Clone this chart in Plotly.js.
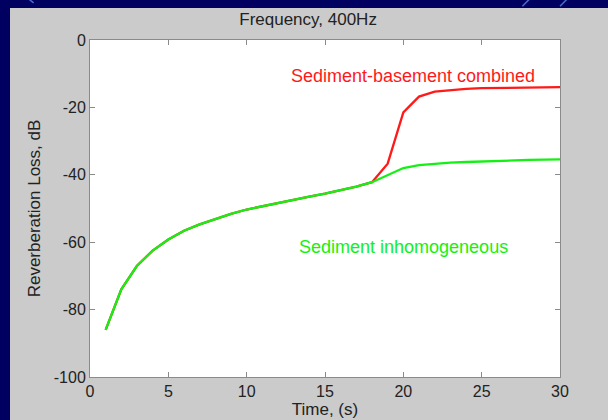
<!DOCTYPE html>
<html>
<head>
<meta charset="utf-8">
<script src="https://cdn.plot.ly/plotly-3.0.1.min.js"></script>
<style>html,body{margin:0;padding:0;background:#000060;}#chart{width:608px;height:420px;}</style>
</head>
<body>
<div id="chart"></div>
<script>
// Time axis (s)
var timeS = [1,2,3,4,5,6,7,8,9,10,11,12,13,14,15,16,17,18,19,20,21,22,23,24,25,26,27,28,29,30];
// Sediment inhomogeneous (green)
var sedimentInhom = [-86,-74,-67,-62.5,-59.2,-56.6,-54.7,-53.1,-51.6,-50.3,-49.3,-48.3,-47.4,-46.5,-45.6,-44.6,-43.5,-42.2,-40.2,-38,-37.1,-36.7,-36.4,-36.2,-36,-35.8,-35.7,-35.6,-35.5,-35.4];
// Sediment-basement combined (red)
var sedimentBasement = [-86,-74,-67,-62.5,-59.2,-56.6,-54.7,-53.1,-51.6,-50.3,-49.3,-48.3,-47.4,-46.5,-45.6,-44.6,-43.5,-42.2,-36.7,-21.5,-16.8,-15.3,-14.8,-14.5,-14.3,-14.2,-14.1,-14.1,-14.0,-14.0];
var xTicks = [0,5,10,15,20,25,30];
var yTicks = [0,-20,-40,-60,-80,-100];

var FONT = '"Liberation Sans", Arial, Helvetica, sans-serif';

var traces = [
  {x: timeS, y: sedimentBasement, mode: 'lines', type: 'scatter', name: 'Sediment-basement combined',
   line: {color: 'rgb(255,25,25)', width: 2.3}, hoverinfo: 'x+y'},
  {x: timeS, y: sedimentInhom, mode: 'lines', type: 'scatter', name: 'Sediment inhomogeneous',
   line: {color: 'rgb(20,240,20)', width: 2.3}, hoverinfo: 'x+y'}
];

var axisCommon = {
  showgrid: false, zeroline: false, showline: true, linecolor: '#8a8a8a', linewidth: 1,
  mirror: 'ticks', ticks: 'inside', ticklen: 5, tickcolor: '#8a8a8a', tickwidth: 1,
  tickfont: {family: FONT, size: 16, color: '#222222'}
};

var layout = {
  width: 608, height: 420,
  margin: {l: 90, r: 48, t: 40, b: 43},
  paper_bgcolor: '#000060',
  plot_bgcolor: '#ffffff',
  showlegend: false,
  title: {text: 'Frequency, 400Hz', x: 0.464, xref: 'paper', xanchor: 'center',
          y: 0.955, yref: 'container', yanchor: 'middle',
          font: {family: FONT, size: 17, color: '#222222'}},
  xaxis: Object.assign({}, axisCommon, {
    range: [0, 30], tickvals: xTicks, ticktext: xTicks.map(String),
    title: {text: 'Time, (s)', standoff: 1, font: {family: FONT, size: 17, color: '#222222'}}
  }),
  yaxis: Object.assign({}, axisCommon, {
    range: [-100, 0], tickvals: yTicks, ticktext: yTicks.map(String),
    title: {text: 'Reverberation Loss, dB', standoff: 8, font: {family: FONT, size: 17, color: '#222222'}}
  }),
  shapes: [
    {type: 'line', xref: 'paper', yref: 'paper', x0: -0.19, y0: 1.19, x1: -0.12, y1: 1.11,
     line: {color: 'rgb(70,110,210)', width: 1.5}, layer: 'below'},
    {type: 'line', xref: 'paper', yref: 'paper', x0: 0.92, y0: 1.1, x1: 0.99, y1: 1.2,
     line: {color: 'rgb(70,110,210)', width: 1.5}, layer: 'below'},
    {type: 'line', xref: 'paper', yref: 'paper', x0: 1.0, y0: 1.1, x1: 1.07, y1: 1.2,
     line: {color: 'rgb(70,110,210)', width: 1.5}, layer: 'below'},
    {type: 'rect', xref: 'paper', yref: 'paper', x0: -0.1702, x1: 1.12, y0: -0.14, y1: 1.095,
     fillcolor: '#cbcbcb', line: {width: 0}, layer: 'below'},
    {type: 'rect', xref: 'paper', yref: 'paper', x0: 0, x1: 1, y0: 0, y1: 1,
     fillcolor: '#ffffff', line: {width: 0}, layer: 'below'}
  ],
  annotations: [
    {x: 20.6, y: -10.6, xref: 'x', yref: 'y', text: 'Sediment-basement combined', showarrow: false,
     xanchor: 'center', yanchor: 'middle', font: {family: FONT, size: 18, color: 'rgb(255,25,25)'}},
    {x: 20.0, y: -61.5, xref: 'x', yref: 'y', text: 'Sediment inhomogeneous', showarrow: false,
     xanchor: 'center', yanchor: 'middle', font: {family: FONT, size: 18, color: 'rgb(20,240,20)'}}
  ]
};

Plotly.newPlot('chart', traces, layout, {displayModeBar: false, staticPlot: true});
</script>
</body>
</html>
